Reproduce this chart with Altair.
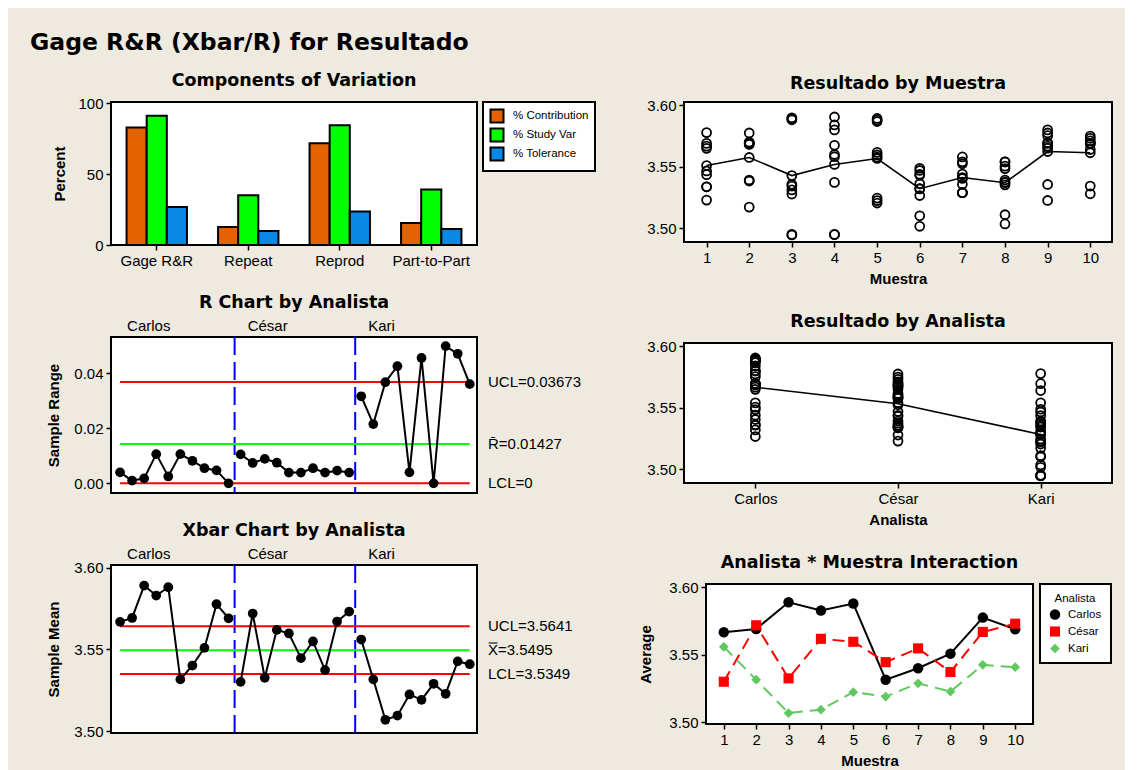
import altair as alt
import pandas as pd

# ---------------- data ----------------
components = ["Gage R&R", "Repeat", "Reprod", "Part-to-Part"]
measures = ["% Contribution", "% Study Var", "% Tolerance"]
pct_contribution = [83.0, 12.7, 71.8, 15.5]
pct_study_var = [91.3, 35.2, 84.5, 39.2]
pct_tolerance = [26.8, 9.9, 23.7, 11.3]

analistas = ["Carlos", "César", "Kari"]
muestras = [1, 2, 3, 4, 5, 6, 7, 8, 9, 10]

range_carlos = [0.0040, 0.0010, 0.0018, 0.0106, 0.0025, 0.0106, 0.0082, 0.0055, 0.0047, 0.0000]
range_cesar = [0.0105, 0.0074, 0.0089, 0.0075, 0.0039, 0.0039, 0.0055, 0.0039, 0.0046, 0.0039]
range_kari = [0.0316, 0.0215, 0.0367, 0.0425, 0.0040, 0.0455, 0.0000, 0.0498, 0.0470, 0.0360]

mean_carlos = [3.5668, 3.5692, 3.5890, 3.5829, 3.5880, 3.5316, 3.5401, 3.5509, 3.5776, 3.5690]
mean_cesar = [3.5301, 3.5719, 3.5326, 3.5619, 3.5597, 3.5446, 3.5548, 3.5373, 3.5670, 3.5731]
mean_kari = [3.5560, 3.5316, 3.5069, 3.5094, 3.5224, 3.5191, 3.5289, 3.5228, 3.5426, 3.5409]

# individual results, three replicates per Muestra (1..10)
res_carlos = [3.5690, 3.5668, 3.5650, 3.5697, 3.5692, 3.5687, 3.5898, 3.5890, 3.5882,
              3.5905, 3.5840, 3.5800, 3.5893, 3.5880, 3.5868, 3.5362, 3.5320, 3.5266,
              3.5440, 3.5405, 3.5358, 3.5540, 3.5505, 3.5485, 3.5800, 3.5775, 3.5753,
              3.5690, 3.5690, 3.5690]
res_cesar = [3.5337, 3.5337, 3.5229, 3.5775, 3.5700, 3.5682, 3.5357, 3.5343, 3.5278,
             3.5675, 3.5600, 3.5582, 3.5617, 3.5596, 3.5578, 3.5470, 3.5439, 3.5431,
             3.5580, 3.5540, 3.5525, 3.5392, 3.5375, 3.5353, 3.5690, 3.5668, 3.5651,
             3.5750, 3.5732, 3.5711]
res_kari = [3.5778, 3.5466, 3.5436, 3.5392, 3.5384, 3.5172, 3.5312, 3.4950, 3.4945,
            3.5373, 3.4950, 3.4948, 3.5245, 3.5225, 3.5205, 3.5488, 3.5101, 3.5016,
            3.5289, 3.5289, 3.5289, 3.5540, 3.5110, 3.5035, 3.5696, 3.5356, 3.5226,
            3.5640, 3.5343, 3.5280]

r_ucl, r_center, r_lcl = 0.03673, 0.01427, 0.0
x_ucl, x_center, x_lcl = 3.5641, 3.5495, 3.5349

# ---------------- tables ----------------
comp_df = pd.DataFrame({
    "Component": components * 3,
    "Measure": [m for m in measures for _ in components],
    "Percent": pct_contribution + pct_study_var + pct_tolerance,
})

sub_df = pd.DataFrame({
    "Subgroup": list(range(1, 31)),
    "Analista": [a for a in analistas for _ in muestras],
    "Range": range_carlos + range_cesar + range_kari,
    "Mean": mean_carlos + mean_cesar + mean_kari,
})

res_rows = []
for a, vals in zip(analistas, [res_carlos, res_cesar, res_kari]):
    for i, v in enumerate(vals):
        res_rows.append({"Analista": a, "Muestra": i // 3 + 1, "Resultado": v})
res_df = pd.DataFrame(res_rows)

int_df = pd.DataFrame({
    "Muestra": muestras * 3,
    "Analista": [a for a in analistas for _ in muestras],
    "Average": mean_carlos + mean_cesar + mean_kari,
})

# ---------------- styles ----------------
BG = "#EEEAE0"
FONT_T = "DejaVu Sans"
FONT_L = "Liberation Sans, DejaVu Sans"
FONT_AT = "Liberation Sans"
RED = "#FF0000"
GREEN = "#00FF00"
BLUE = "#0000FF"
KARI_GREEN = "#5FC95F"
NBSP = "\u00a0"

LW, RW, IW = 366, 428, 327
H_COMP, H_R, H_X, H_RIGHT = 143, 156, 168, 140

INDEP = dict(color="independent", shape="independent", size="independent")


def subtitle(text, offset):
    return alt.TitleParams(text, font=FONT_T, fontSize=17.5, fontWeight="bold",
                           anchor="middle", frame="group", offset=offset, color="black")


# ---------------- Components of Variation ----------------
comp = alt.Chart(comp_df).mark_bar(stroke="black", strokeWidth=2).encode(
    x=alt.X("Component:N", sort=components, title=None,
            scale=alt.Scale(paddingInner=0.34, paddingOuter=0.17),
            axis=alt.Axis(labelAngle=0)),
    xOffset=alt.XOffset("Measure:N", sort=measures,
                        scale=alt.Scale(paddingInner=0, paddingOuter=0)),
    y=alt.Y("Percent:Q", scale=alt.Scale(domain=[0, 101], nice=False),
            axis=alt.Axis(values=[0, 50, 100], title="Percent", titleX=-52,
                          titleBaseline="middle")),
    color=alt.Color("Measure:N", sort=measures,
                    scale=alt.Scale(domain=measures, range=["#E46200", GREEN, "#0A88E6"]),
                    legend=alt.Legend(title=None, orient="none", legendX=372, legendY=0,
                                      symbolType="square", symbolSize=170,
                                      symbolStrokeColor="black", symbolStrokeWidth=2,
                                      labelFont=FONT_L, labelFontSize=11.5, labelColor="black",
                                      labelExpr=f"datum.label + '{NBSP * 2}'",
                                      fillColor="white", strokeColor="black",
                                      padding=6, rowPadding=-5, labelOffset=8)),
).properties(width=LW, height=H_COMP, title=subtitle("Components of Variation", 6.6))


# ---------------- control charts ----------------
def control_chart(field, domain, yvalues, ytitle, limits, labels, title, height, toff):
    xs = alt.X("Subgroup:Q", scale=alt.Scale(domain=[0.25, 30.6], nice=False, zero=False), axis=None)
    ys = alt.Y(f"{field}:Q", scale=alt.Scale(domain=domain, nice=False, zero=False),
               axis=alt.Axis(values=yvalues, format=".2f", title=ytitle, titleX=-58,
                             titleBaseline="middle"))
    base = alt.Chart(sub_df)
    lim_df = pd.DataFrame({
        "Subgroup": [1, 1, 1],
        "Subgroup2": [30, 30, 30],
        field: limits,
        "Color": [RED, GREEN, RED],
        "Label": labels,
    })
    sep_df = pd.DataFrame({"Subgroup": [10.5, 20.5]})
    op_df = pd.DataFrame({"Subgroup": [1, 11, 21], field: [domain[1]] * 3, "Analista": analistas})

    seps = alt.Chart(sep_df).mark_rule(color=BLUE, strokeWidth=2, strokeDash=[18, 7]).encode(x=xs)
    rules = alt.Chart(lim_df).mark_rule(strokeWidth=2).encode(
        x=xs, x2="Subgroup2:Q", y=ys, color=alt.Color("Color:N", scale=None))
    lim_text = alt.Chart(lim_df).mark_text(align="left", baseline="middle", dx=11,
                                           font=FONT_L, fontSize=15, color="black").encode(
        x=alt.value(LW), y=ys, text="Label:N")
    op_text = alt.Chart(op_df).mark_text(align="left", baseline="middle", dx=7, dy=-11,
                                         font=FONT_L, fontSize=15, color="black").encode(
        x=xs, y=ys, text="Analista:N")
    line = base.mark_line(color="black", strokeWidth=2).encode(x=xs, y=ys, detail="Analista:N")
    pts = base.mark_circle(color="black", size=95, opacity=1).encode(x=xs, y=ys)
    return alt.layer(seps, rules, line, pts, lim_text, op_text).properties(
        width=LW, height=height, title=subtitle(title, toff))


r_chart = control_chart("Range", [-0.0035, 0.0531], [0, 0.02, 0.04], "Sample Range",
                        [r_ucl, r_center, r_lcl],
                        [f"UCL={r_ucl:.5f}", f"R\u0304={r_center:.5f}", f"LCL={r_lcl:g}"],
                        "R Chart by Analista", H_R, 7.7)
x_chart = control_chart("Mean", [3.4988, 3.6016], [3.50, 3.55, 3.60], "Sample Mean",
                        [x_ucl, x_center, x_lcl],
                        [f"UCL={x_ucl:.4f}", f"X\u033F={x_center:.4f}", f"LCL={x_lcl:.4f}"],
                        "Xbar Chart by Analista", H_X, 7.7)

# ---------------- Resultado by Muestra ----------------
y_res = alt.Y("Resultado:Q", scale=alt.Scale(domain=[3.4888, 3.6027], nice=False, zero=False),
              axis=alt.Axis(values=[3.50, 3.55, 3.60], format=".2f", title=None))
x_mu = alt.X("Muestra:Q", scale=alt.Scale(domain=[0.47, 10.51], nice=False, zero=False),
             axis=alt.Axis(values=muestras, format="d", title="Muestra", titleY=36,
                           titleBaseline="middle"))
open_pt = dict(shape="circle", filled=False, color="black", strokeWidth=1.8, size=80, opacity=1)

mu_pts = alt.Chart(res_df).mark_point(**open_pt).encode(x=x_mu, y=y_res)
mu_mean = alt.Chart(res_df).transform_aggregate(
    Resultado="mean(Resultado)", groupby=["Muestra"])
mu_chart = alt.layer(
    mu_pts,
    mu_mean.mark_line(color="black", strokeWidth=1.6).encode(x=x_mu, y=y_res),
    mu_mean.mark_point(**open_pt).encode(x=x_mu, y=y_res),
).properties(width=RW, height=H_RIGHT, title=subtitle("Resultado by Muestra", 6))

# ---------------- Resultado by Analista ----------------
x_an = alt.X("Analista:N", sort=analistas, scale=alt.Scale(type="point", padding=0.5),
             axis=alt.Axis(labelAngle=0, title="Analista", titleY=36, titleBaseline="middle"))
an_mean = alt.Chart(res_df).transform_aggregate(
    Resultado="mean(Resultado)", groupby=["Analista"])
an_chart = alt.layer(
    alt.Chart(res_df).mark_point(**open_pt).encode(x=x_an, y=y_res),
    an_mean.mark_line(color="black", strokeWidth=1.6).encode(x=x_an, y=y_res),
).properties(width=RW, height=H_RIGHT, title=subtitle("Resultado by Analista", 9.3))

# ---------------- Interaction ----------------
x_int = alt.X("Muestra:Q", scale=alt.Scale(domain=[0.45, 10.55], nice=False, zero=False),
              axis=alt.Axis(values=muestras, format="d", title="Muestra", titleY=36,
                            titleBaseline="middle"))
y_int = alt.Y("Average:Q", scale=alt.Scale(domain=[3.4988, 3.6025], nice=False, zero=False),
              axis=alt.Axis(values=[3.50, 3.55, 3.60], format=".2f", title="Average",
                            titleX=-61, titleBaseline="middle"))
int_base = alt.Chart(int_df)
line_styles = {"Carlos": ("black", []), "César": (RED, [12, 7]), "Kari": (KARI_GREEN, [12, 7])}
int_lines = []
for a in analistas:
    col, dash = line_styles[a]
    kw = dict(color=col, strokeWidth=2)
    if dash:
        kw["strokeDash"] = dash
    int_lines.append(int_base.transform_filter(alt.datum.Analista == a)
                     .mark_line(**kw).encode(x=x_int, y=y_int))
int_legend = alt.Legend(title="Analista", orient="none", legendX=334, legendY=0,
                        titleFont=FONT_L, titleFontWeight="normal", titleFontSize=11.5,
                        titleColor="black", titleAnchor="middle", titlePadding=4,
                        labelFont=FONT_L, labelFontSize=11.5, labelColor="black",
                        labelExpr=f"datum.label + '{NBSP * 8}'",
                        fillColor="white", strokeColor="black",
                        padding=9, rowPadding=5, labelOffset=7)
int_pts = int_base.mark_point(filled=True, opacity=1).encode(
    x=x_int, y=y_int,
    color=alt.Color("Analista:N", sort=analistas,
                    scale=alt.Scale(domain=analistas, range=["black", RED, KARI_GREEN]),
                    legend=int_legend),
    shape=alt.Shape("Analista:N", sort=analistas,
                    scale=alt.Scale(domain=analistas, range=["circle", "square", "diamond"]),
                    legend=int_legend),
    size=alt.Size("Analista:N", sort=analistas,
                  scale=alt.Scale(domain=analistas, range=[110, 95, 150]),
                  legend=int_legend),
)
int_chart = alt.layer(*int_lines, int_pts).properties(
    width=IW, height=H_RIGHT, title=subtitle("Analista * Muestra Interaction", 9.3))

spacer = alt.Chart(pd.DataFrame({"s": [0]})).mark_point(opacity=0).encode(
    x=alt.value(0), y=alt.value(0)).properties(
    width=1, height=1, view=alt.ViewBackground(stroke="transparent", fill="transparent"))

# ---------------- layout ----------------
left_col = alt.vconcat(
    comp,
    alt.vconcat(r_chart, x_chart, spacing=72, bounds="flush").resolve_scale(**INDEP),
    spacing=92, bounds="flush").resolve_scale(**INDEP)
right_col = alt.vconcat(
    mu_chart, an_chart,
    alt.hconcat(spacer, int_chart, spacing=21, bounds="flush").resolve_scale(**INDEP),
    spacing=101, bounds="flush").resolve_scale(**INDEP)

# nested concat columns have no width of their own in a flush layout, so the
# spacing is measured from the left edge of the left column's plots
chart = alt.hconcat(left_col, right_col, spacing=573, bounds="flush").resolve_scale(
    **INDEP
).properties(
    title=alt.TitleParams("Gage R&R (Xbar/R) for Resultado", anchor="start", frame="group",
                          dx=-81, font=FONT_T, fontSize=23.5, fontWeight="bold",
                          color="black", offset=16.7),
    padding={"left": 22, "top": 23, "right": 12, "bottom": 4},
    background=BG,
).configure_view(
    stroke="black", strokeWidth=2, fill="white"
).configure_axis(
    labelFont=FONT_L, labelFontSize=15, labelColor="black",
    titleFont=FONT_AT, titleFontSize=15, titleFontWeight="bold", titleColor="black",
    domain=False, grid=False, tickColor="black", tickSize=5, tickWidth=1.5, labelPadding=3,
).configure_legend(strokeWidth=2)

chart.save("out.html", embed_options={"renderer": "svg", "actions": False})
